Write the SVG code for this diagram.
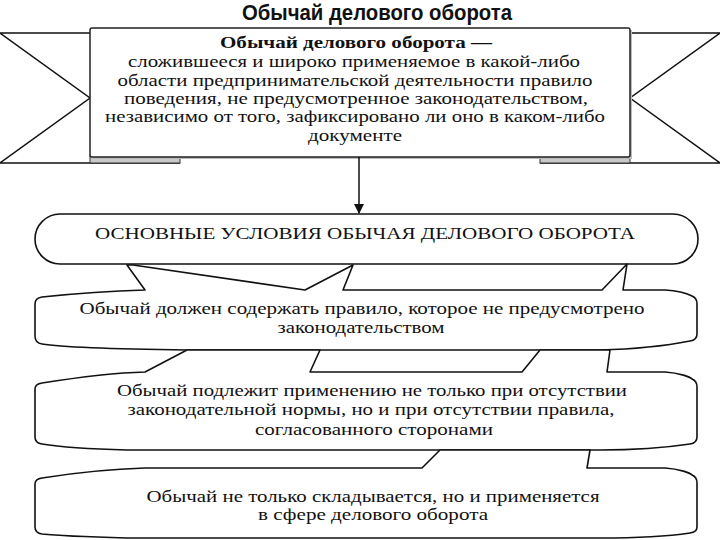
<svg xmlns="http://www.w3.org/2000/svg" width="720" height="540" viewBox="0 0 720 540">
<style>
  .ln{fill:none;stroke:#111;stroke-width:1.5}
  .box{fill:#fff;stroke:#111;stroke-width:1.6;stroke-linejoin:round}
  .t{fill:#111;text-anchor:middle}
  .b{font-size:17px}
  .s{font-size:16px}
  .title{font-weight:bold;font-size:22px;fill:#111;text-anchor:middle}
</style>
<defs>
  <marker id="ah" markerWidth="10" markerHeight="10" refX="9" refY="5" orient="auto" markerUnits="userSpaceOnUse">
    <path d="M0,0 L10,5 L0,10 Z" fill="#111"/>
  </marker>
</defs>
<rect width="720" height="540" fill="#fff"/>

<text class="title" font-family="'Liberation Sans Narrow', 'Liberation Sans', 'DejaVu Sans Condensed', sans-serif" x="377" y="20" textLength="270" lengthAdjust="spacingAndGlyphs">Обычай делового оборота</text>

<g id="banner" font-family="'Liberation Serif', 'DejaVu Serif', serif">
  <g id="ribbon-left">
    <path d="M0,33 L90,33 M0,163 L180,163 M0,33 L90,98 L0,163" class="ln"/>
    <rect x="90" y="156" width="90" height="7" fill="#c8c8c8" stroke="#333" stroke-width="1"/>
  </g>
  <g id="ribbon-right">
    <path d="M630,33 L720,33 M540,163 L720,163 M720,33 L630,98 L720,163" class="ln"/>
    <rect x="540" y="156" width="90" height="7" fill="#c8c8c8" stroke="#333" stroke-width="1"/>
  </g>
  <rect x="92" y="30" width="540" height="129" fill="#bbb"/>
  <rect x="90" y="28" width="540" height="129" rx="2" fill="#fff" stroke="#222" stroke-width="1.5"/>
  <text class="t b" x="356" y="48" font-weight="bold" textLength="272" lengthAdjust="spacingAndGlyphs">Обычай делового оборота —</text>
  <text class="t b" x="354" y="67" textLength="452" lengthAdjust="spacingAndGlyphs">сложившееся и широко применяемое в какой-либо</text>
  <text class="t b" x="355" y="86" textLength="475" lengthAdjust="spacingAndGlyphs">области предпринимательской деятельности правило</text>
  <text class="t b" x="356" y="104" textLength="464" lengthAdjust="spacingAndGlyphs">поведения, не предусмотренное законодательством,</text>
  <text class="t b" x="355" y="122" textLength="500" lengthAdjust="spacingAndGlyphs">независимо от того, зафиксировано ли оно в каком-либо</text>
  <text class="t b" x="355" y="141" textLength="94" lengthAdjust="spacingAndGlyphs">документе</text>
</g>

<g id="connectors">
  <line x1="359" y1="157" x2="359" y2="213" class="ln" marker-end="url(#ah)"/>
</g>

<g id="conditions" font-family="'Liberation Serif', 'DejaVu Serif', serif">
  <rect x="35" y="214" width="663" height="50" rx="25" ry="25" class="box"/>
  <text class="t s" x="365" y="239" textLength="540" lengthAdjust="spacingAndGlyphs">ОСНОВНЫЕ УСЛОВИЯ ОБЫЧАЯ ДЕЛОВОГО ОБОРОТА</text>
</g>

<g id="cond1" font-family="'Liberation Serif', 'DejaVu Serif', serif">
  <path class="box" d="M35,304 Q35,298 42,297 C80,293 110,291 145,290 L127,265 L133,265 L305,290 L353,265 L343,290 L602,290 L627,264 L623,290 L665,290 C680,291 690,295 692,296 Q697,298 697,304 L697,334 Q697,340 690,341 C670,345 640,349 600,350 L187,350 C110,349 60,347 42,344 Q35,343 35,336 Z"/>
  <text class="t s" x="362" y="314" textLength="565" lengthAdjust="spacingAndGlyphs">Обычай должен содержать правило, которое не предусмотрено</text>
  <text class="t s" x="361" y="333" textLength="167" lengthAdjust="spacingAndGlyphs">законодательством</text>
</g>

<g id="cond2" font-family="'Liberation Serif', 'DejaVu Serif', serif">
  <path class="box" d="M35,389 Q35,384 42,383 C80,377 110,373 145,372 L187,350 L320,350 L310,372 L522,372 L540,350 L610,350 L607,372 L665,372 C680,373 690,377 692,379 Q697,381 697,387 L697,437 Q697,443 690,444 C670,447 640,450 600,450 L127,450 C90,449 60,447 42,444 Q35,443 35,437 Z"/>
  <text class="t s" x="372" y="396" textLength="510" lengthAdjust="spacingAndGlyphs">Обычай подлежит применению не только при отсутствии</text>
  <text class="t s" x="371" y="415" textLength="487" lengthAdjust="spacingAndGlyphs">законодательной нормы, но и при отсутствии правила,</text>
  <text class="t s" x="374" y="435" textLength="238" lengthAdjust="spacingAndGlyphs">согласованного сторонами</text>
</g>

<g id="cond3" font-family="'Liberation Serif', 'DejaVu Serif', serif">
  <path class="box" d="M35,484 Q35,479 42,478 C80,472 110,469 145,468 L422,468 L440,450 L590,450 L587,468 L665,468 C680,469 690,473 692,475 Q697,477 697,483 L697,527 Q697,532 690,533 C670,536 640,538 600,538 L127,538 C90,537 60,536 42,534 Q35,533 35,527 Z"/>
  <text class="t s" x="373" y="502" textLength="453" lengthAdjust="spacingAndGlyphs">Обычай не только складывается, но и применяется</text>
  <text class="t s" x="373" y="520" textLength="230" lengthAdjust="spacingAndGlyphs">в сфере делового оборота</text>
</g>
</svg>
